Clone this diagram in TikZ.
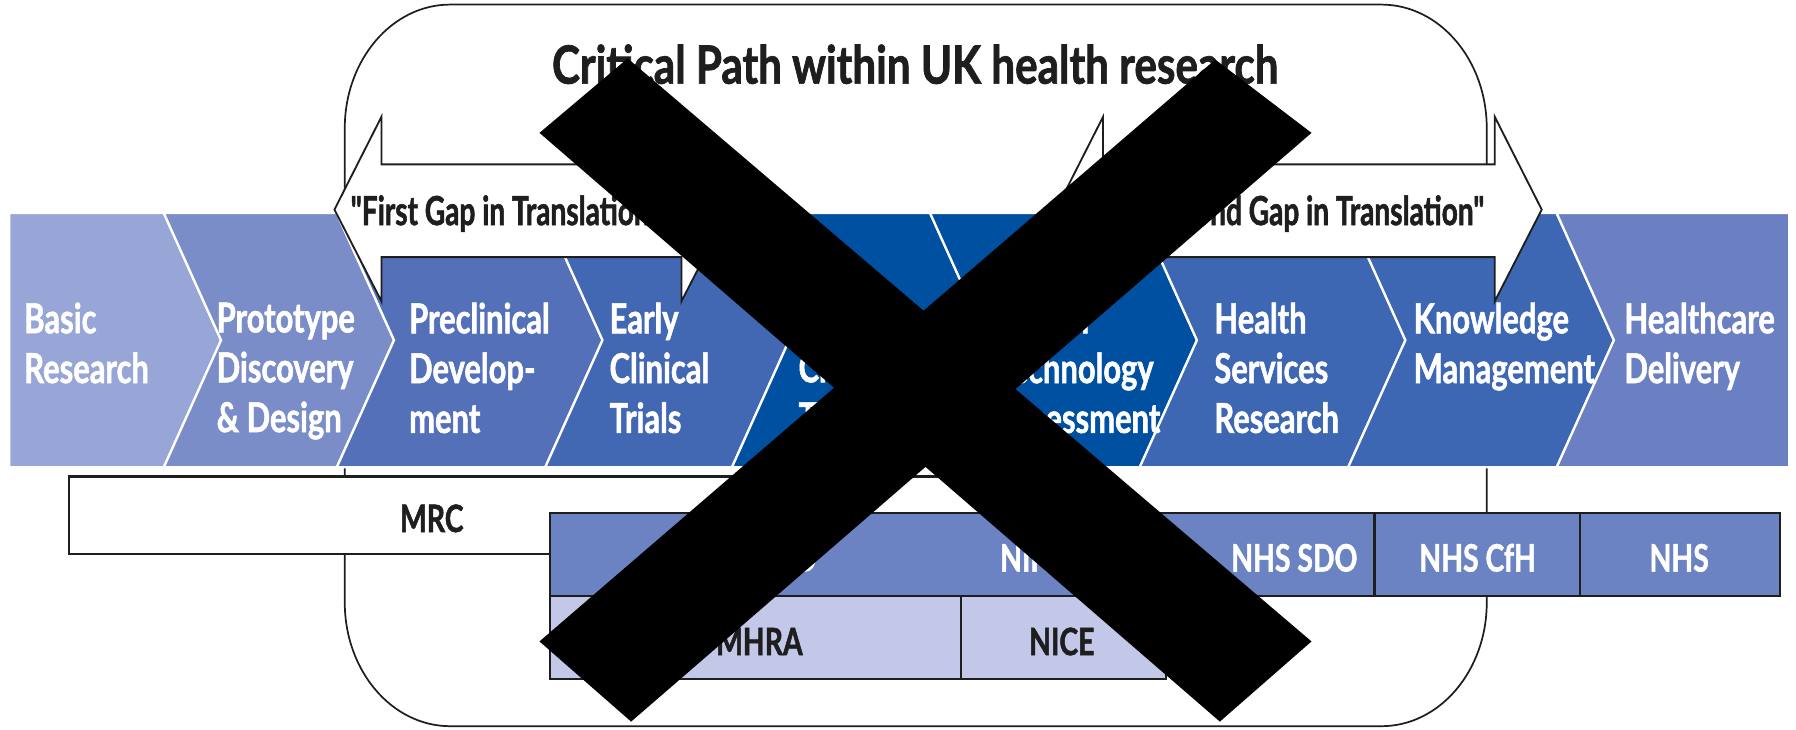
\documentclass[tikz,border=0pt]{standalone}
\usepackage{fontspec}
\newfontfamily\gs[FakeStretch=0.75, BoldFeatures={FakeBold=1.3}]{Lato}
\newfontfamily\gsn[FakeStretch=0.70, BoldFeatures={FakeBold=1.3}]{Lato}
\newfontfamily\gst[FakeStretch=0.80, BoldFeatures={FakeBold=1.3}]{Lato}
\definecolor{cA}{HTML}{97A6D6}
\definecolor{cB}{HTML}{7B8DC8}
\definecolor{cC}{HTML}{5470B8}
\definecolor{cD}{HTML}{4268B3}
\definecolor{cE}{HTML}{0050A2}
\definecolor{cF}{HTML}{3D67B2}
\definecolor{cG}{HTML}{6A80C2}
\definecolor{rowB}{HTML}{6B83C3}
\definecolor{rowC}{HTML}{C3C8E8}
\definecolor{ink}{HTML}{1E1E1E}
\begin{document}
\begin{tikzpicture}[x=1pt,y=-1pt,
  chev/.style={draw=white, line width=2pt, line join=miter},
  gaparrow/.style={draw=ink, fill=white, line width=1.6pt, line join=miter},
  frame/.style={draw=ink, line width=1.5pt},
  boxB/.style={draw=ink, fill=rowB, line width=1.8pt},
  boxC/.style={draw=ink, fill=rowC, line width=1.8pt},
  boxW/.style={draw=ink, fill=white, line width=1.8pt},
  chevtext/.style={anchor=north west, inner sep=0pt, align=left, text=white,
    font=\gs\bfseries\fontsize{36}{43.5}\selectfont},
  boxtext/.style={anchor=base, inner sep=0pt, font=\gs\bfseries\fontsize{33}{38}\selectfont},
  gaptext/.style={inner sep=0pt, text=ink, font=\gsn\bfseries\fontsize{35}{40}\selectfont},
  crossbar/.style={fill=black, draw=none}]
\useasboundingbox (0,0) rectangle (1568,637);
\fill[white] (0,0) rectangle (1568,637);

% outer rounded frame
\draw[frame] (393,4) -- (1206,4) arc[start angle=-90, end angle=0, x radius=92, y radius=108]
  -- (1298,526) arc[start angle=0, end angle=90, x radius=92, y radius=108]
  -- (393,634) arc[start angle=90, end angle=180, x radius=92, y radius=108]
  -- (301,112) arc[start angle=180, end angle=270, x radius=92, y radius=108] -- cycle;

% chevron strip
\fill[cA,chev] (8,186) -- (143,186) -- (193,297) -- (143,408) -- (8,408) -- cycle;
\fill[cB,chev] (143,186) -- (294,186) -- (344,297) -- (294,408) -- (143,408) -- (193,297) -- cycle;
\fill[cC,chev] (294,186) -- (476,186) -- (526,297) -- (476,408) -- (294,408) -- (344,297) -- cycle;
\fill[cD,chev] (476,186) -- (639,186) -- (689,297) -- (639,408) -- (476,408) -- (526,297) -- cycle;
\fill[cE,chev] (639,186) -- (812,186) -- (862,297) -- (812,408) -- (639,408) -- (689,297) -- cycle;
\fill[cE,chev] (812,186) -- (995,186) -- (1045,297) -- (995,408) -- (812,408) -- (862,297) -- cycle;
\fill[cF,chev] (995,186) -- (1177,186) -- (1227,297) -- (1177,408) -- (995,408) -- (1045,297) -- cycle;
\fill[cF,chev] (1177,186) -- (1359,186) -- (1409,297) -- (1359,408) -- (1177,408) -- (1227,297) -- cycle;
\fill[cG,chev] (1359,186) -- (1562,186) -- (1562,408) -- (1359,408) -- (1409,297) -- cycle;

\node[chevtext] (basic) at (21,264) {Basic\\Research};
\node[chevtext] (proto) at (189,264) {Prototype\\Discovery\\\& Design};
\node[chevtext] (precl) at (357,264) {Preclinical\\Develop-\\ment};
\node[chevtext] (early) at (532,264) {Early\\Clinical\\Trials};
\node[chevtext] (late) at (697,264) {Late\\Clinical\\Trials};
\node[chevtext] (hta) at (870,264) {Health\\Technology\\Assessment};
\node[chevtext] (hsr) at (1060,264) {Health\\Services\\Research};
\node[chevtext] (km) at (1234,264) {Knowledge\\Management};
\node[chevtext] (hcd) at (1418,264) {Healthcare\\Delivery};

% gap arrows
\draw[gaparrow] (292,183) -- (333,102) -- (333,143.5) -- (595,143.5) -- (595,102) -- (636,183)
  -- (595,263) -- (595,224.5) -- (333,224.5) -- (333,263) -- cycle;
\draw[gaparrow] (922,183) -- (963,102) -- (963,143.5) -- (1305,143.5) -- (1305,102) -- (1346,183)
  -- (1305,263) -- (1305,224.5) -- (963,224.5) -- (963,263) -- cycle;
\node[gaptext, anchor=base west] (gap1) at (306,196.5) {"First Gap in Translation"};
\node[gaptext, anchor=base east] (gap2) at (1296,196.5) {"Second Gap in Translation"};

% title
\node[anchor=base, inner sep=0pt, text=ink, font=\gst\bfseries\fontsize{46}{52}\selectfont]
  (title) at (799,73) {Critical Path within UK health research};

% funder rows
\draw[boxW] (60,416) rectangle (960,484);
\node[boxtext, text=ink] (mrc) at (377,464.5) {MRC};
\draw[boxB] (480,448) rectangle (975,520);
\draw[boxB] (975,448) rectangle (1200,520);
\draw[boxB] (1200,448) rectangle (1379,520);
\draw[boxB] (1379,448) rectangle (1554,520);
\node[boxtext, text=white, anchor=base east] (rd) at (713,499) {NHS R\&D};
\node[boxtext, text=white, anchor=base west] (nihr) at (873,499) {NIHR};
\node[boxtext, text=white] (sdo) at (1130,499) {NHS SDO};
\node[boxtext, text=white] (cfh) at (1290,499) {NHS CfH};
\node[boxtext, text=white] (nhs) at (1466,499) {NHS};
\draw[boxC] (480,520) rectangle (839,593);
\draw[boxC] (839,520) rectangle (1018,593);
\node[boxtext, text=ink] (mhra) at (663,572) {MHRA};
\node[boxtext, text=ink] (nice) at (927,572) {NICE};

% cross
\fill[crossbar] (548,51) -- (1145,560) -- (1065,630) -- (471,116) -- cycle;
\fill[crossbar] (1061,52) -- (1145,116) -- (551,630) -- (471,560) -- cycle;
\end{tikzpicture}
\end{document}
